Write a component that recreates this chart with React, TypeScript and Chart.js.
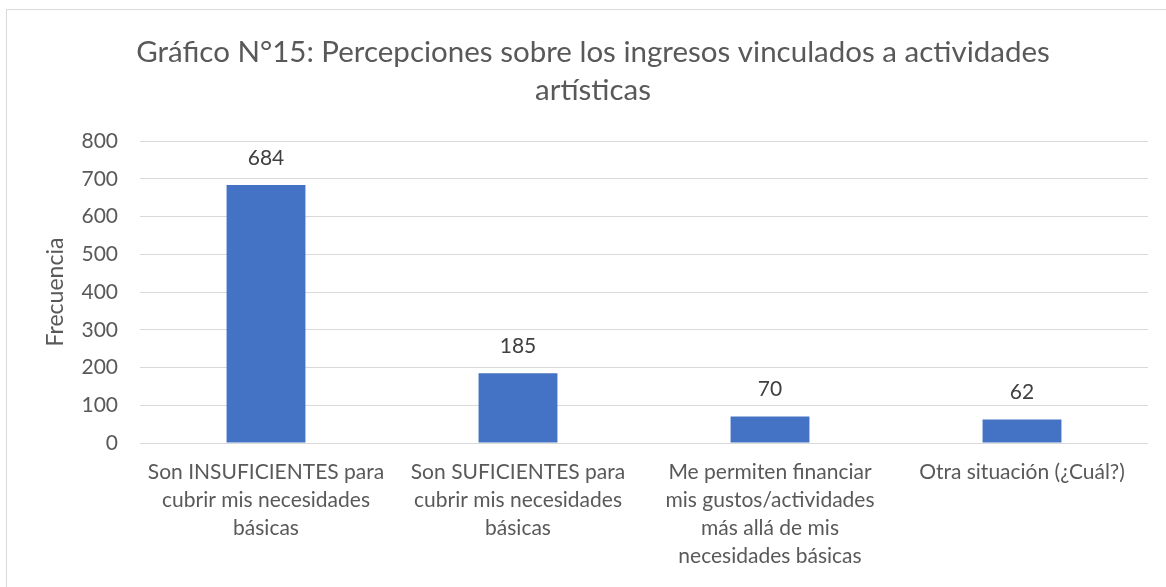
import React, { useEffect, useRef } from "react";
import { Chart, registerables } from "chart.js";

Chart.register(...registerables);

const categories: string[][] = [
  ["Son INSUFICIENTES para", "cubrir mis necesidades", "básicas"],
  ["Son SUFICIENTES para", "cubrir mis necesidades", "básicas"],
  ["Me permiten financiar", "mis gustos/actividades", "más allá de mis", "necesidades básicas"],
  ["Otra situación (¿Cuál?)"],
];
const frecuencia: number[] = [684, 185, 70, 62];
const titleLines: string[] = [
  "Gráfico N°15: Percepciones sobre los ingresos vinculados a actividades",
  "artísticas",
];
const yAxisTitle = "Frecuencia";

const FONT = "Lato, 'Open Sans', sans-serif";

const dataLabels = {
  id: "dataLabels",
  afterDatasetsDraw(chart: any) {
    const ctx = chart.ctx;
    const meta = chart.getDatasetMeta(0);
    ctx.save();
    ctx.font = `21px ${FONT}`;
    ctx.fillStyle = "#404040";
    ctx.textAlign = "center";
    ctx.textBaseline = "middle";
    meta.data.forEach((bar: any, i: number) => {
      ctx.fillText(String(chart.data.datasets[0].data[i]), bar.x, bar.y - 27);
    });
    ctx.restore();
  },
};

export default function App() {
  const ref = useRef<HTMLCanvasElement | null>(null);
  useEffect(() => {
    if (!ref.current) return;
    const chart = new Chart(ref.current, {
      type: "bar",
      data: {
        labels: categories,
        datasets: [
          {
            data: frecuencia,
            backgroundColor: "#4472C4",
            categoryPercentage: 1,
            barPercentage: 0.313,
          },
        ],
      },
      options: {
        responsive: false,
        animation: false,
        layout: { padding: { left: 38, right: 18, top: 10, bottom: 0 } },
        plugins: {
          legend: { display: false },
          tooltip: { enabled: false },
          title: {
            display: true,
            text: titleLines,
            color: "#595959",
            font: { family: FONT, size: 29.5, weight: "normal", lineHeight: 1.29 },
            padding: { top: 23, bottom: 32 },
          },
        },
        scales: {
          x: {
            grid: { display: false, drawTicks: false },
            border: { display: false },
            ticks: {
              color: "#595959",
              font: { family: FONT, size: 21, lineHeight: 1.33 },
              padding: 15,
              maxRotation: 0,
              autoSkip: false,
            },
            afterFit(scale: any) {
              scale.height = 144;
            },
          },
          y: {
            min: 0,
            max: 800,
            ticks: {
              stepSize: 100,
              color: "#595959",
              font: { family: FONT, size: 21 },
              padding: 22,
            },
            grid: { color: "#d9d9d9", lineWidth: 1, drawTicks: false },
            border: { display: false },
            title: {
              display: true,
              text: yAxisTitle,
              color: "#595959",
              font: { family: FONT, size: 23 },
              padding: { top: 4, bottom: 0 },
            },
            afterFit(scale: any) {
              scale.width = 102;
            },
          },
        },
      },
      plugins: [dataLabels],
    });
    return () => chart.destroy();
  }, []);
  return (
    <div style={{ position: "absolute", left: 0, top: 0, width: 1166, height: 587, overflow: "hidden", background: "#fff" }}>
      <div
        style={{
          position: "absolute",
          left: 6,
          top: 9,
          width: 1180,
          height: 600,
          border: "1px solid #d9d9d9",
          boxSizing: "border-box",
        }}
      />
      <canvas ref={ref} width={1166} height={587} style={{ position: "absolute", left: 0, top: 0 }} />
    </div>
  );
}
